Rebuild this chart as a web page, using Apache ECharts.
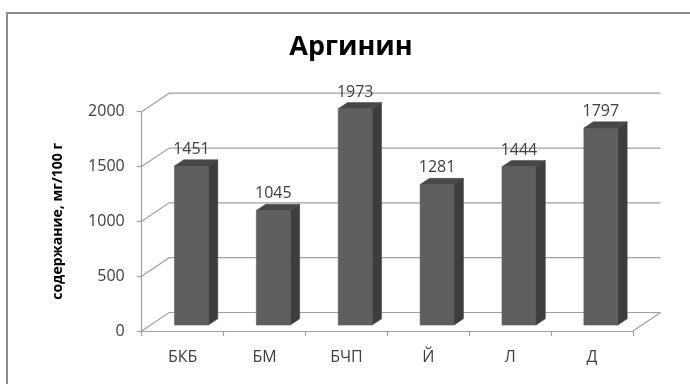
<!DOCTYPE html>
<html>
<head>
<meta charset="utf-8">
<script src="https://cdn.jsdelivr.net/npm/echarts@6/dist/echarts.min.js"></script>
<style>
  html, body { margin: 0; padding: 0; background: #fff; }
  #chart { width: 690px; height: 384px; }
</style>
</head>
<body>
<div id="chart"></div>
<script>
// Arginine content per sample
const categories = ['БКБ', 'БМ', 'БЧП', 'Й', 'Л', 'Д'];
const arginine = [1451, 1045, 1973, 1281, 1444, 1797];
const yTicks = [0, 500, 1000, 1500, 2000];

const titleText = 'Аргинин';
const yAxisTitle = 'содержание, мг/100 г';

// Pseudo-3D depth of the plot box (screen offset from front plane to back wall)
const DEPTH_X = 27.5;
const DEPTH_Y = -18.5;
// Where each column starts in depth and how deep it is (fractions of the box depth)
const BAR_DEPTH_START = 0.32;
const BAR_DEPTH = 0.34;
const BAR_WIDTH = 0.415;

const FONT = '"Open Sans", "Liberation Sans", sans-serif';
const GRID_COLOR = '#a0a0a0';
const TEXT_COLOR = '#404040';

const chart = echarts.init(document.getElementById('chart'), null, { renderer: 'canvas' });

function renderWall(params, api) {
  const cs = params.coordSys;
  const v = api.value(1);
  const y = api.coord([0, v])[1];
  const xl = cs.x;
  const xr = cs.x + cs.width;
  const children = [{
    type: 'polyline',
    shape: { points: [[xl, y], [xl + DEPTH_X, y + DEPTH_Y], [xr + DEPTH_X, y + DEPTH_Y]] },
    style: { stroke: GRID_COLOR, lineWidth: 1.2, fill: null }
  }];
  if (v === 0) {
    children.push({
      type: 'line',
      shape: { x1: xr, y1: y, x2: xr + DEPTH_X, y2: y + DEPTH_Y },
      style: { stroke: GRID_COLOR, lineWidth: 1.2 }
    });
  }
  return { type: 'group', children: children };
}

function renderColumn(params, api) {
  const idx = api.value(0);
  const val = api.value(1);
  const base = api.coord([idx, 0]);
  const top = api.coord([idx, val]);
  const catW = api.size([1, 0])[0];
  const w = catW * BAR_WIDTH;
  const ox = DEPTH_X * BAR_DEPTH_START;
  const oy = DEPTH_Y * BAR_DEPTH_START;
  const sx = DEPTH_X * BAR_DEPTH;
  const sy = DEPTH_Y * BAR_DEPTH;
  const xl = base[0] - w / 2 + ox;
  const xr = base[0] + w / 2 + ox;
  const yb = base[1] + oy;
  const yt = top[1] + oy;
  return {
    type: 'group',
    children: [
      { type: 'polygon', shape: { points: [[xr, yt], [xr + sx, yt + sy], [xr + sx, yb + sy], [xr, yb]] },
        style: { fill: '#3d3d3d', stroke: '#3a3a3a', lineWidth: 0.5 } },
      { type: 'polygon', shape: { points: [[xl, yt], [xr, yt], [xr + sx, yt + sy], [xl + sx, yt + sy]] },
        style: { fill: '#474747', stroke: '#444', lineWidth: 0.5 } },
      { type: 'rect', shape: { x: xl, y: yt, width: xr - xl, height: yb - yt },
        style: { fill: '#5f5f5f', stroke: '#555', lineWidth: 0.5 } },
      { type: 'text', x: (xl + xr) / 2, y: yt + sy - 10.5,
        style: { text: String(val), fill: TEXT_COLOR, font: '16px ' + FONT, align: 'center', verticalAlign: 'middle' } }
    ]
  };
}

chart.setOption({
  animation: false,
  backgroundColor: '#ffffff',
  graphic: [
    { type: 'rect', silent: true, z: -10,
      shape: { x: 7, y: 13, width: 720, height: 420 },
      style: { fill: null, stroke: '#8c8c8c', lineWidth: 2 } },
    { type: 'text', z: 10,
      x: 351, y: 47,
      style: { text: titleText, font: 'bold 27px ' + FONT, fill: '#000', align: 'center', verticalAlign: 'middle' } }
  ],
  grid: { left: 141.7, top: 111.7, width: 491.3, height: 219.3, containLabel: false, outerBoundsMode: 'none' },
  xAxis: {
    type: 'category',
    data: categories,
    boundaryGap: true,
    axisLine: { show: true, lineStyle: { color: GRID_COLOR, width: 1.2 } },
    axisTick: { show: true, length: 5, lineStyle: { color: GRID_COLOR, width: 1.2 } },
    axisLabel: { color: TEXT_COLOR, fontSize: 16, fontFamily: FONT, margin: 18 },
    splitLine: { show: false }
  },
  yAxis: {
    type: 'value',
    min: 0, max: 2000, interval: 500,
    name: yAxisTitle,
    nameLocation: 'middle',
    nameRotate: 90,
    nameGap: 77,
    nameTextStyle: { color: '#000', fontWeight: 'bold', fontSize: 14, fontFamily: FONT },
    axisLine: { show: true, lineStyle: { color: GRID_COLOR, width: 1.2 } },
    axisTick: { show: true, length: 5, lineStyle: { color: GRID_COLOR, width: 1.2 } },
    axisLabel: { color: TEXT_COLOR, fontSize: 16, fontFamily: FONT, margin: 17, formatter: v => String(v) },
    splitLine: { show: false }
  },
  series: [
    {
      type: 'custom',
      name: 'wall',
      renderItem: renderWall,
      data: yTicks.map(v => [0, v]),
      clip: false,
      silent: true,
      z: 1
    },
    {
      type: 'custom',
      name: 'Аргинин',
      renderItem: renderColumn,
      data: arginine.map((v, i) => [i, v]),
      clip: false,
      z: 2
    }
  ]
});
</script>
</body>
</html>
